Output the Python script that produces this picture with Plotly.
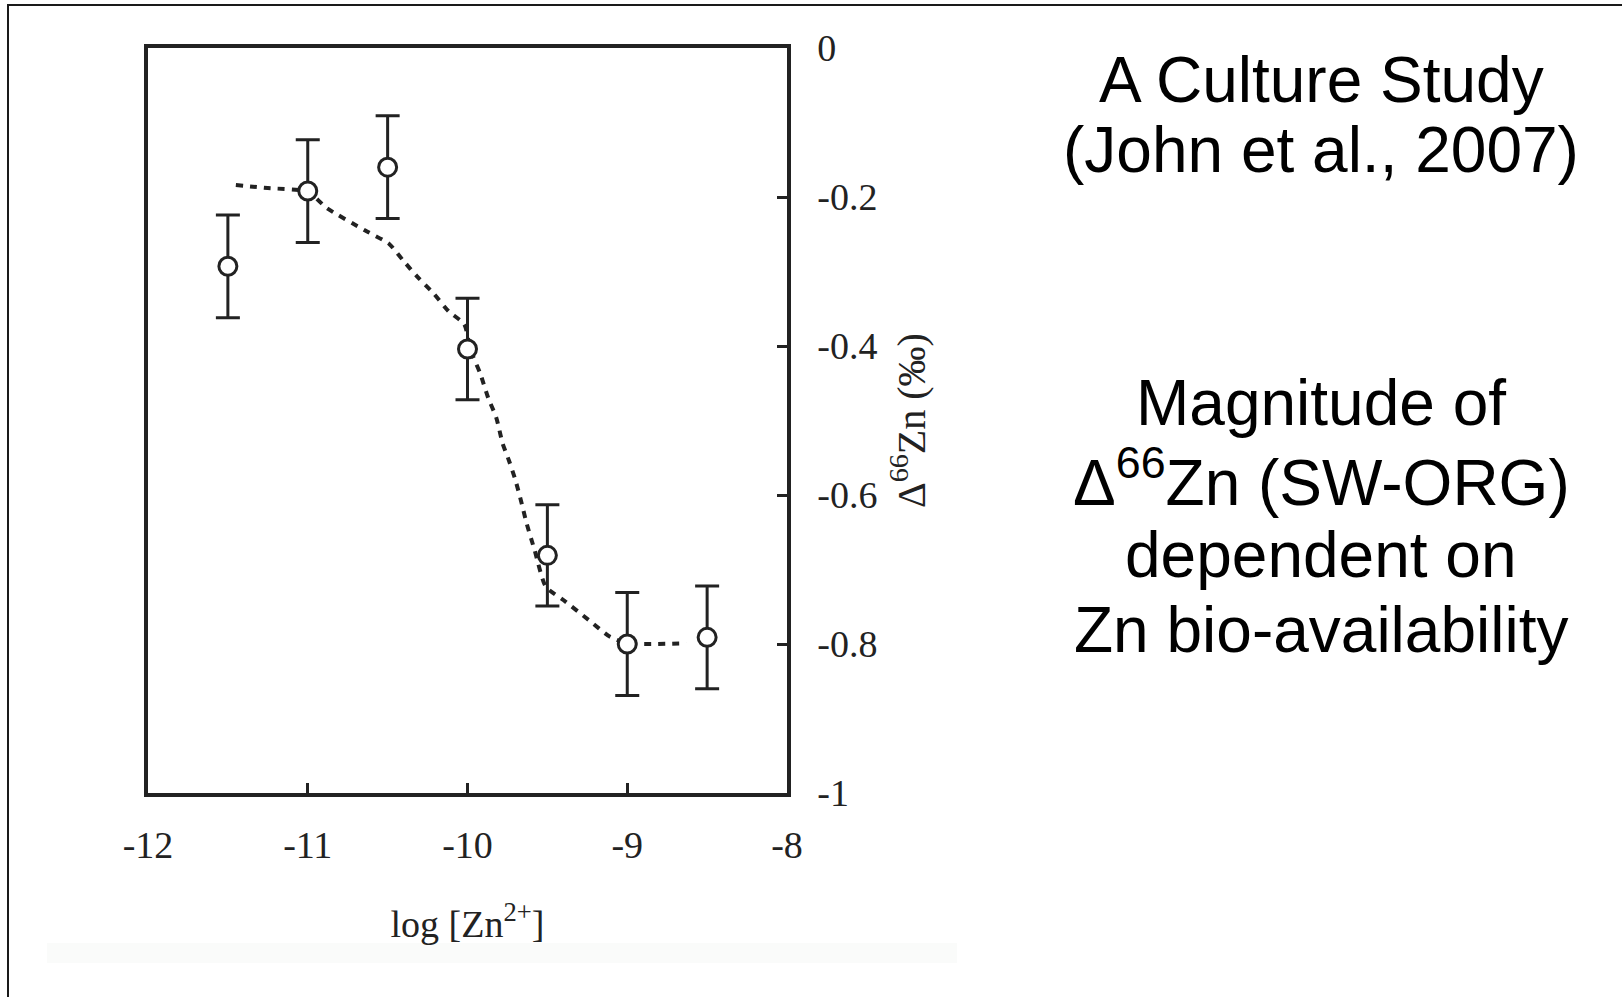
import plotly.graph_objects as go

# ---- data ----
log_zn = [-11.5, -11.0, -10.5, -10.0, -9.5, -9.0, -8.5]
d66zn = [-0.293, -0.192, -0.160, -0.404, -0.681, -0.800, -0.791]
d66zn_err = [0.069, 0.069, 0.069, 0.068, 0.068, 0.069, 0.069]

fit_x = [-11.45, -11.25, -11.0, -10.88, -10.64, -10.49, -10.40, -10.31, -10.21, -10.12,
         -10.02, -9.98, -9.92, -9.87, -9.82, -9.78, -9.74, -9.70, -9.66, -9.63,
         -9.58, -9.51, -9.40, -9.24, -9.11, -9.0, -8.63]
fit_y = [-0.184, -0.188, -0.193, -0.215, -0.245, -0.263, -0.286, -0.308, -0.330, -0.353,
         -0.371, -0.406, -0.437, -0.470, -0.496, -0.531, -0.554, -0.580, -0.612, -0.638,
         -0.674, -0.723, -0.741, -0.768, -0.790, -0.799, -0.799]

x_ticks = [-12, -11, -10, -9, -8]
x_ticklabels = ["-12", "-11", "-10", "-9", "-8"]
y_ticks = [0, -0.2, -0.4, -0.6, -0.8, -1]
y_ticklabels = ["0", "-0.2", "-0.4", "-0.6", "-0.8", "-1"]

W, H = 1622, 997
ML, MR, MT, MB = 148, 835, 48, 204
PW = W - ML - MR
PH = H - MT - MB


def px(x):
    return (x - ML) / PW


def py(y):
    return (H - MB - y) / PH


INK = "#222222"
SERIF = "Liberation Serif, Times New Roman, serif"
SANS = "Liberation Sans, Arial, sans-serif"

fig = go.Figure()

fig.add_trace(go.Scatter(
    x=fit_x, y=fit_y, mode="lines",
    line=dict(color=INK, width=4, dash="7px,7px", shape="spline", smoothing=0.6),
    showlegend=False, hoverinfo="skip",
))

fig.add_trace(go.Scatter(
    x=log_zn, y=d66zn, mode="markers",
    marker=dict(symbol="circle", size=18, color="white", line=dict(color=INK, width=3)),
    error_y=dict(type="data", array=d66zn_err, visible=True, color=INK, thickness=3, width=12),
    showlegend=False,
))

fig.update_layout(
    width=W, height=H,
    margin=dict(l=ML, r=MR, t=MT, b=MB, pad=0),
    paper_bgcolor="white", plot_bgcolor="white",
    font=dict(family=SERIF, color=INK, size=38),
    xaxis=dict(
        range=[-12, -8], tickmode="array", tickvals=x_ticks, ticktext=x_ticklabels,
        ticks="inside", ticklen=10, tickwidth=2.5, tickcolor=INK,
        showline=True, linewidth=3.5, linecolor=INK, mirror=True,
        showgrid=False, zeroline=False,
        tickfont=dict(family=SERIF, size=38, color=INK), ticklabelstandoff=16,
        title=dict(text="log [Zn<sup>2+</sup>]", font=dict(family=SERIF, size=38, color=INK), standoff=46),
        automargin=False,
    ),
    yaxis=dict(
        range=[-1, 0], side="right", tickmode="array", tickvals=y_ticks, ticktext=y_ticklabels,
        ticks="inside", ticklen=10, tickwidth=2.5, tickcolor=INK,
        showline=True, linewidth=3.5, linecolor=INK, mirror=True,
        showgrid=False, zeroline=False,
        tickfont=dict(family=SERIF, size=38, color=INK), ticklabelstandoff=19,
        title=dict(text="Δ<sup>66</sup>Zn (‰)", font=dict(family=SERIF, size=40, color=INK), standoff=21),
        automargin=False,
    ),
)

# slide frame and faint image-edge band
fig.add_shape(type="rect", xref="paper", yref="paper",
              x0=px(8), x1=px(1700), y0=py(1100), y1=py(5),
              line=dict(color="#1a1a1a", width=2), fillcolor="rgba(0,0,0,0)", layer="below")
fig.add_shape(type="rect", xref="paper", yref="paper",
              x0=px(47), x1=px(957), y0=py(963), y1=py(943),
              line=dict(width=0), fillcolor="#fafbfa", layer="below")

right_lines = [
    ("A Culture Study", 80),
    ("(John et al., 2007)", 150),
    ("Magnitude of", 403),
    ("Δ<sup>66</sup>Zn (SW-ORG)", 478),
    ("dependent on", 555),
    ("Zn bio-availability", 630),
]
for txt, yc in right_lines:
    fig.add_annotation(text=txt, xref="paper", yref="paper", x=px(1321), y=py(yc),
                       xanchor="center", yanchor="middle", showarrow=False,
                       font=dict(family=SANS, size=64, color="black"))

fig.write_html("out.html")
